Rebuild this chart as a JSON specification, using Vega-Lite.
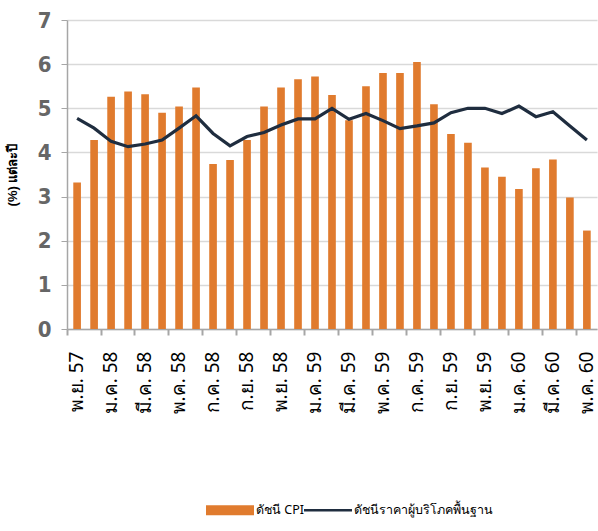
{
  "$schema": "https://vega.github.io/schema/vega-lite/v6.json",
  "autosize": "none",
  "width": 530,
  "height": 309,
  "padding": {"left": 67, "top": 20, "right": 1, "bottom": 202},
  "background": "white",
  "data": {
    "values": [
      {"month": "พ.ย. 57", "cpi": 3.32, "core": 4.77},
      {"month": "ธ.ค. 57", "cpi": 4.28, "core": 4.55},
      {"month": "ม.ค. 58", "cpi": 5.26, "core": 4.25},
      {"month": "ก.พ. 58", "cpi": 5.38, "core": 4.13},
      {"month": "มี.ค. 58", "cpi": 5.32, "core": 4.19},
      {"month": "เม.ย. 58", "cpi": 4.9, "core": 4.28},
      {"month": "พ.ค. 58", "cpi": 5.04, "core": 4.55},
      {"month": "มิ.ย. 58", "cpi": 5.47, "core": 4.83},
      {"month": "ก.ค. 58", "cpi": 3.74, "core": 4.43},
      {"month": "ส.ค. 58", "cpi": 3.83, "core": 4.15},
      {"month": "ก.ย. 58", "cpi": 4.28, "core": 4.36},
      {"month": "ต.ค. 58", "cpi": 5.04, "core": 4.45},
      {"month": "พ.ย. 58", "cpi": 5.47, "core": 4.62},
      {"month": "ธ.ค. 58", "cpi": 5.66, "core": 4.76},
      {"month": "ม.ค. 59", "cpi": 5.72, "core": 4.76},
      {"month": "ก.พ. 59", "cpi": 5.3, "core": 5.0},
      {"month": "มี.ค. 59", "cpi": 4.73, "core": 4.75},
      {"month": "เม.ย. 59", "cpi": 5.5, "core": 4.88},
      {"month": "พ.ค. 59", "cpi": 5.8, "core": 4.72},
      {"month": "มิ.ย. 59", "cpi": 5.8, "core": 4.54},
      {"month": "ก.ค. 59", "cpi": 6.05, "core": 4.6},
      {"month": "ส.ค. 59", "cpi": 5.09, "core": 4.67},
      {"month": "ก.ย. 59", "cpi": 4.42, "core": 4.9},
      {"month": "ต.ค. 59", "cpi": 4.22, "core": 5.0},
      {"month": "พ.ย. 59", "cpi": 3.66, "core": 5.0},
      {"month": "ธ.ค. 59", "cpi": 3.45, "core": 4.88},
      {"month": "ม.ค. 60", "cpi": 3.17, "core": 5.05},
      {"month": "ก.พ. 60", "cpi": 3.64, "core": 4.81},
      {"month": "มี.ค. 60", "cpi": 3.84, "core": 4.92},
      {"month": "เม.ย. 60", "cpi": 2.98, "core": 4.6},
      {"month": "พ.ค. 60", "cpi": 2.23, "core": 4.28}
    ]
  },
  "config": {
    "view": {"stroke": null},
    "axis": {"gridColor": "#d9d9d9", "gridWidth": 1.5, "domainColor": "#a6a6a6", "tickColor": "#a6a6a6", "domainWidth": 1.5}
  },
  "resolve": {"axis": {"x": "independent", "y": "independent"}},
  "layer": [
    {
      "mark": {"type": "bar", "color": "#e07b2e"},
      "encoding": {
        "x": {
          "field": "month",
          "type": "nominal",
          "sort": null,
          "scale": {"paddingInner": 0.55, "paddingOuter": 0.37},
          "axis": {
            "orient": "bottom",
            "title": null,
            "values": ["พ.ย. 57", "ม.ค. 58", "มี.ค. 58", "พ.ค. 58", "ก.ค. 58", "ก.ย. 58", "พ.ย. 58", "ม.ค. 59", "มี.ค. 59", "พ.ค. 59", "ก.ค. 59", "ก.ย. 59", "พ.ย. 59", "ม.ค. 60", "มี.ค. 60", "พ.ค. 60"],
            "bandPosition": 2.0,
            "ticks": false,
            "labelAngle": -90,
            "labelFontSize": 19,
            "labelColor": "#000000",
            "labelPadding": 22,
            "labelFont": "Noto Sans, DejaVu Sans, sans-serif"
          }
        },
        "y": {
          "field": "cpi",
          "type": "quantitative",
          "scale": {"domain": [0, 7]},
          "axis": {
            "title": "(%) แต่ละปี",
            "titleFontSize": 13,
            "titleFontWeight": "bold",
            "titleColor": "#000000",
            "titlePadding": 18,
            "values": [0, 1, 2, 3, 4, 5, 6, 7],
            "labelOverlap": false,
            "labelFontSize": 22,
            "labelFontWeight": "bold",
            "labelColor": "#666666",
            "labelFont": "DejaVu Sans Condensed, Liberation Sans Narrow, sans-serif",
            "labelPadding": 10,
            "tickSize": 6
          }
        },
        "color": {
          "datum": "ดัชนี CPI",
          "type": "nominal",
          "scale": {"domain": ["ดัชนี CPI", "ดัชนีราคาผู้บริโภคพื้นฐาน"], "range": ["#e07b2e", "#1f2d3f"]},
          "legend": {
            "title": null,
            "orient": "none",
            "legendX": 139,
            "legendY": 466,
            "direction": "horizontal",
            "symbolSize": 2304,
            "symbolStrokeWidth": 0,
            "labelFontSize": 12.5,
            "labelColor": "#000000",
            "labelFont": "Noto Sans, DejaVu Sans Condensed, sans-serif",
            "labelOffset": 2,
            "columnPadding": 0,
            "encode": {
              "symbols": {
                "update": {
                  "shape": {"signal": "datum.value === 'ดัชนี CPI' ? 'M-1,-0.21H1V0.21H-1Z' : 'M-1,-0.05H1V0.05H-1Z'"},
                  "fill": {"signal": "datum.value === 'ดัชนี CPI' ? '#e07b2e' : '#4a5a6c'"},
                  "fillOpacity": {"value": 1},
                  "strokeWidth": {"value": 0}
                }
              }
            }
          }
        }
      }
    },
    {
      "mark": {"type": "line", "color": "#1f2d3f", "strokeWidth": 3.2},
      "encoding": {
        "x": {"field": "month", "type": "nominal", "sort": null, "axis": null},
        "y": {"field": "core", "type": "quantitative", "axis": null},
        "color": {"datum": "ดัชนีราคาผู้บริโภคพื้นฐาน", "type": "nominal"}
      }
    },
    {
      "mark": {"type": "rule", "opacity": 0},
      "encoding": {
        "x": {
          "field": "month",
          "type": "nominal",
          "sort": null,
          "axis": {
            "orient": "bottom",
            "title": null,
            "values": ["พ.ย. 57", "ม.ค. 58", "มี.ค. 58", "พ.ค. 58", "ก.ค. 58", "ก.ย. 58", "พ.ย. 58", "ม.ค. 59", "มี.ค. 59", "พ.ค. 59", "ก.ค. 59", "ก.ย. 59", "พ.ย. 59", "ม.ค. 60", "มี.ค. 60", "พ.ค. 60"],
            "bandPosition": -0.82,
            "labels": false,
            "ticks": true,
            "tickSize": 6,
            "tickWidth": 2,
            "domain": false
          }
        }
      }
    }
  ]
}
